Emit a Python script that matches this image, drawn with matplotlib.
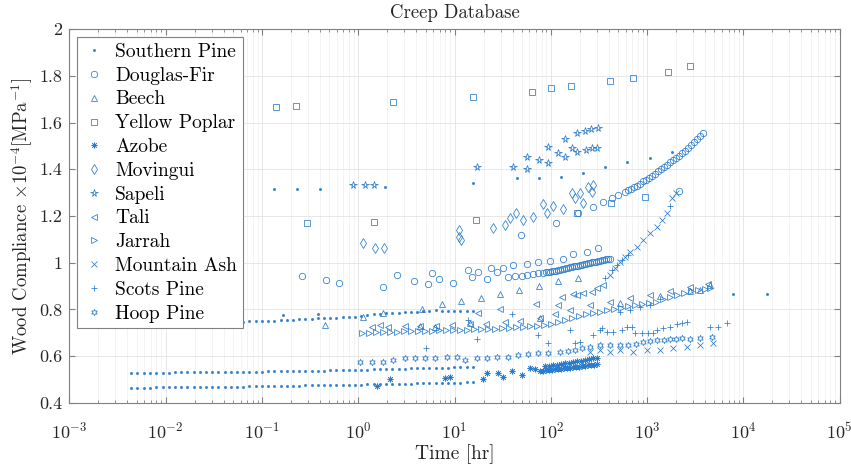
import matplotlib
matplotlib.use("Agg")
import matplotlib.pyplot as plt
from matplotlib.ticker import FixedLocator, FuncFormatter, LogLocator, NullFormatter

plt.rcParams['font.family'] = 'serif'
plt.rcParams['font.serif'] = ['cmr10']
plt.rcParams['mathtext.fontset'] = 'cm'
plt.rcParams['axes.formatter.use_mathtext'] = True

# ---- data (time in hr, compliance x1e-4 1/MPa) ----
# Southern Pine: sparse high points, two far points, three dense dotted tests
sp_top_t = [0.133, 0.231, 0.40, 1.89, 15.5, 44.5, 75.2, 127, 215, 364, 617, 1069, 1808]
sp_top_y = [1.316, 1.316, 1.316, 1.324, 1.341, 1.363, 1.363, 1.367, 1.384, 1.410, 1.431, 1.448, 1.474]
sp_far_t = [0.165, 0.38, 7766, 17500]
sp_far_y = [0.776, 0.780, 0.865, 0.865]
sp_dot_t = [0.0044, 0.0051, 0.0059, 0.0069, 0.0080, 0.0093, 0.0108, 0.0125, 0.0145, 0.0168,
            0.0195, 0.0226, 0.0262, 0.0304, 0.0353, 0.0410, 0.0475, 0.0551, 0.0640, 0.0742,
            0.0860, 0.0998, 0.116, 0.134, 0.156, 0.181, 0.210, 0.243, 0.282, 0.327,
            0.380, 0.440, 0.511, 0.593, 0.687, 0.797, 0.925, 1.07, 1.24, 1.44,
            1.68, 1.94, 2.25, 2.62, 3.03, 3.52, 4.08, 4.74, 5.49, 6.37,
            7.39, 8.58, 9.95, 11.5, 13.4, 15.5]
sp_mid_y = [0.745] * 18 + [0.747, 0.748, 0.749, 0.750, 0.751, 0.752,
            0.753, 0.754, 0.755, 0.757, 0.758, 0.760,
            0.761, 0.762, 0.764, 0.765, 0.766, 0.767, 0.768,
            0.772, 0.776, 0.780, 0.782, 0.784, 0.785, 0.786,
            0.787, 0.788, 0.790, 0.792, 0.795, 0.797,
            0.795, 0.794, 0.793, 0.793, 0.794, 0.795]
sp_low1_y = [0.528, 0.528, 0.528, 0.529, 0.529, 0.529, 0.529, 0.530, 0.530, 0.530,
             0.530, 0.530, 0.531, 0.531, 0.531, 0.531, 0.531, 0.532, 0.532, 0.532,
             0.533, 0.533, 0.534, 0.534, 0.535, 0.535, 0.536, 0.536, 0.537, 0.537,
             0.538, 0.538, 0.539, 0.539, 0.540, 0.540, 0.541, 0.542, 0.542, 0.543,
             0.543, 0.544, 0.545, 0.545, 0.546, 0.547, 0.547, 0.548, 0.548, 0.549,
             0.549, 0.550, 0.551, 0.551, 0.552, 0.553]
sp_low2_y = [0.465, 0.465, 0.465, 0.465, 0.466, 0.466, 0.466, 0.466, 0.467, 0.467,
             0.467, 0.467, 0.468, 0.468, 0.468, 0.468, 0.469, 0.469, 0.469, 0.470,
             0.470, 0.470, 0.471, 0.471, 0.472, 0.472, 0.473, 0.473, 0.474, 0.474,
             0.475, 0.475, 0.476, 0.476, 0.477, 0.477, 0.478, 0.478, 0.479, 0.479,
             0.480, 0.480, 0.481, 0.481, 0.482, 0.482, 0.483, 0.483, 0.484, 0.484,
             0.485, 0.485, 0.486, 0.486, 0.487, 0.488]

# Douglas-Fir: sparse test, dense short test, long test
df1_t = [0.260, 0.462, 0.631, 1.80, 2.52, 3.79, 5.29, 5.82, 6.89, 9.62, 13.8, 15.2, 17.5,
         21.7, 23.9, 27.5, 31.8, 40.4, 56.5, 73.5, 97.9, 134, 170, 237, 308]
df1_y = [0.943, 0.925, 0.913, 0.895, 0.947, 0.921, 0.908, 0.955, 0.930, 0.913, 0.968, 0.938, 0.960,
         0.930, 0.977, 0.960, 0.977, 0.990, 0.994, 1.003, 1.007, 1.015, 1.037, 1.045, 1.063]
df2_t = [35.8, 42.4, 50.1, 56.5, 65.2, 73.5, 82.7, 88.8, 93.3, 97.9, 102.8, 108, 113, 119, 124,
         130, 137, 144, 151, 158, 166, 174, 182, 191, 201, 210, 221, 232, 243, 255,
         267, 280, 294, 308, 323, 339, 356, 373, 391, 411]
df2_y = [0.938, 0.943, 0.943, 0.947, 0.951, 0.955, 0.955, 0.960, 0.960, 0.960, 0.964, 0.964, 0.964,
         0.968, 0.968, 0.973, 0.973, 0.977, 0.977, 0.981, 0.981, 0.986, 0.986, 0.986, 0.990, 0.990,
         0.994, 0.994, 0.998, 0.998, 1.003, 1.003, 1.003, 1.007, 1.007, 1.011, 1.011, 1.015, 1.015, 1.015]
df3_t = [48.9, 113, 191, 274, 347, 431, 497, 588, 632, 680, 729, 784, 841, 904, 970, 1043, 1118,
         1204, 1294, 1390, 1494, 1604, 1724, 1852, 1991, 2138, 2296, 2467, 2651, 2847, 3059,
         3286, 3532, 3795, 2138]
df3_y = [1.118, 1.170, 1.213, 1.238, 1.260, 1.277, 1.290, 1.303, 1.311, 1.316, 1.324, 1.328, 1.337,
         1.350, 1.354, 1.363, 1.371, 1.380, 1.393, 1.401, 1.410, 1.418, 1.431, 1.440, 1.448, 1.457,
         1.470, 1.478, 1.491, 1.504, 1.517, 1.530, 1.543, 1.556, 1.307]

# Beech
beech_t = [0.451, 1.12, 1.80, 4.59, 7.39, 11.7, 18.8, 29.6, 46.6, 75.2, 119, 191,
           4.37, 6.26, 14.5, 77.0, 522, 1357, 2780, 3532, 4483]
beech_y = [0.733, 0.767, 0.784, 0.801, 0.823, 0.835, 0.848, 0.865, 0.883, 0.900, 0.921, 0.934,
           0.729, 0.724, 0.741, 0.763, 0.827, 0.857, 0.878, 0.883, 0.904]

# Yellow Poplar
yp_t = [0.140, 0.225, 2.29, 15.5, 63.6, 100, 162, 411, 712, 1643, 2780,
        0.293, 1.46, 16.7, 187, 421, 948]
yp_y = [1.667, 1.671, 1.688, 1.710, 1.731, 1.748, 1.757, 1.778, 1.791, 1.817, 1.843,
        1.170, 1.174, 1.183, 1.213, 1.256, 1.281]

# Azobe
az_t = [1.56, 2.13, 7.94, 8.96, 19.7, 21.7, 28.2, 31.8, 39.4, 50.1, 60.6, 68.4,
        77.0, 82.7, 88.8, 95.5, 103, 110, 119, 127, 137, 147, 158, 170, 182, 196, 210, 226,
        243, 261, 280, 301,
        86.6, 95.5, 105, 116, 127, 140, 154, 170, 187, 206, 226, 248, 274, 301]
az_y = [0.471, 0.501, 0.506, 0.510, 0.501, 0.527, 0.527, 0.510, 0.536, 0.518, 0.548, 0.544,
        0.536, 0.536, 0.540, 0.540, 0.540, 0.544, 0.544, 0.544, 0.548, 0.548, 0.548, 0.553,
        0.553, 0.553, 0.557, 0.557, 0.561, 0.561, 0.561, 0.566,
        0.557, 0.557, 0.561, 0.561, 0.566, 0.570, 0.570, 0.574, 0.578, 0.578, 0.583, 0.587,
        0.591, 0.591]

# Movingui
mov_t = [1.12, 1.49, 1.85, 11.1, 11.1, 11.7, 25.0, 33.4, 37.6, 43.4, 51.3, 65.2, 82.7, 91.0,
         105, 134, 166, 178, 201, 215, 243, 274, 267]
mov_y = [1.084, 1.063, 1.063, 1.140, 1.110, 1.097, 1.148, 1.161, 1.191, 1.213, 1.183, 1.196,
         1.251, 1.213, 1.243, 1.230, 1.299, 1.277, 1.299, 1.256, 1.324, 1.333, 1.303]

# Sapeli
sap_t = [0.881, 1.17, 1.46, 17.1, 40.4, 56.5, 56.5, 75.2, 93.3, 93.3, 119, 140, 140, 166,
         187, 187, 226, 232, 261, 267, 308, 301]
sap_y = [1.333, 1.333, 1.333, 1.410, 1.410, 1.401, 1.453, 1.440, 1.427, 1.495, 1.470, 1.530,
         1.453, 1.491, 1.556, 1.474, 1.564, 1.483, 1.573, 1.491, 1.577, 1.491]

# Tali
tali_t = [1.68, 17.5, 29.6, 70.0, 119, 130, 170, 187, 215, 267, 301, 347,
          1.39, 2.03, 3.05, 4.37, 6.41, 9.40, 14.5, 21.2, 33.4, 47.8, 77.0, 110, 158, 255,
          411, 663, 1069, 1724, 2780, 4272]
tali_y = [0.733, 0.784, 0.801, 0.823, 0.818, 0.853, 0.865, 0.861, 0.870, 0.874, 0.891, 0.904,
          0.724, 0.724, 0.729, 0.729, 0.729, 0.733, 0.737, 0.737, 0.746, 0.750, 0.763, 0.780,
          0.797, 0.818, 0.831, 0.848, 0.861, 0.878, 0.895, 0.908]

# Jarrah
jar_t = [1.09, 1.29, 1.53, 1.80, 2.13, 2.52, 2.98, 3.53, 4.17, 4.93, 5.82, 6.89, 8.14, 9.62,
         11.4, 13.4, 15.9, 18.8, 22.2, 26.3, 31.0, 36.7, 43.4, 51.3, 60.6, 71.7, 84.8, 100,
         119, 140, 166, 196, 232, 274, 323, 383, 452, 535, 632, 747, 882, 1043, 1233, 1458,
         1724, 2038, 2410, 2847, 3365, 3979, 4483]
jar_y = [0.698, 0.698, 0.703, 0.703, 0.703, 0.703, 0.707, 0.707, 0.707, 0.707, 0.707, 0.711,
         0.711, 0.711, 0.711, 0.711, 0.716, 0.716, 0.716, 0.716, 0.720, 0.720, 0.724, 0.724,
         0.729, 0.729, 0.733, 0.737, 0.746, 0.754, 0.763, 0.771, 0.780, 0.784, 0.788, 0.797,
         0.801, 0.806, 0.814, 0.818, 0.823, 0.827, 0.831, 0.844, 0.853, 0.861, 0.870, 0.878,
         0.883, 0.887, 0.891]

# Mountain Ash
ma_t = [411, 463, 522, 588, 663, 784, 904, 1069, 1264, 1424, 1604, 1808, 1991,
        255, 323, 411, 522, 712, 995, 1357, 1852, 2588, 3532, 4815]
ma_y = [0.947, 0.977, 1.003, 1.024, 1.045, 1.067, 1.097, 1.127, 1.153, 1.183, 1.213, 1.277, 1.299,
        0.617, 0.625, 0.617, 0.625, 0.617, 0.625, 0.625, 0.634, 0.638, 0.647, 0.656]

# Scots Pine
scots_t = [5.05, 13.8, 17.1, 39.4, 73.5, 93.3, 158, 178, 201, 274, 323, 339, 382, 441, 548,
           617, 695, 747, 882, 1019, 1148, 1264, 1458, 1724, 2038, 2296, 2588, 4483, 5430, 6725,
           364, 431, 486, 548, 632, 1724, 522, 663, 841, 1069]
scots_y = [0.634, 0.754, 0.673, 0.780, 0.690, 0.656, 0.711, 0.656, 0.660, 0.690, 0.711, 0.720,
           0.703, 0.703, 0.711, 0.724, 0.724, 0.698, 0.698, 0.698, 0.698, 0.711, 0.720, 0.724,
           0.737, 0.741, 0.746, 0.724, 0.724, 0.741,
           0.934, 0.968, 0.990, 1.011, 1.033, 1.243, 0.788, 0.797, 0.810, 0.818]

# Hoop Pine
hoop_t = [1.04, 1.39, 1.80, 2.29, 3.05, 3.89, 4.93, 6.26, 8.33, 10.6, 12.8, 17.1, 21.7, 27.5,
          35.8, 45.5, 57.8, 73.5, 93.3, 124, 151, 178, 210, 255, 323, 411, 522, 632, 765, 904,
          1069, 1264, 1494, 1724, 1991, 2296, 2780, 3532, 4699]
hoop_y = [0.574, 0.574, 0.574, 0.583, 0.591, 0.591, 0.591, 0.591, 0.596, 0.596, 0.583, 0.591,
          0.591, 0.596, 0.596, 0.604, 0.608, 0.613, 0.613, 0.617, 0.621, 0.625, 0.634, 0.638,
          0.647, 0.647, 0.647, 0.647, 0.651, 0.660, 0.664, 0.668, 0.668, 0.673, 0.673, 0.677,
          0.673, 0.677, 0.681]

blue = '#2a7ccc'
txt = '#262626'

sp_t = sp_top_t + sp_far_t + sp_dot_t * 3
sp_y = sp_top_y + sp_far_y + sp_mid_y + sp_low1_y + sp_low2_y
df_t = df1_t + df2_t + df3_t
df_y = df1_y + df2_y + df3_y

series = [
    ('Southern Pine', sp_t, sp_y, '.', 2.4),
    ('Douglas-Fir', df_t, df_y, 'o', 4.6),
    ('Beech', beech_t, beech_y, '^', 4.6),
    ('Yellow Poplar', yp_t, yp_y, 's', 3.8),
    ('Azobe', az_t, az_y, (8, 2, 0), 4.2),
    ('Movingui', mov_t, mov_y, 'd', 5.0),
    ('Sapeli', sap_t, sap_y, '*', 5.4),
    ('Tali', tali_t, tali_y, '<', 4.6),
    ('Jarrah', jar_t, jar_y, '>', 4.6),
    ('Mountain Ash', ma_t, ma_y, 'x', 3.8),
    ('Scots Pine', scots_t, scots_y, '+', 4.6),
    ('Hoop Pine', hoop_t, hoop_y, (6, 1, 0), 4.6),
]

fig = plt.figure(figsize=(8.51, 4.68), dpi=100)
ax = fig.add_axes([0.0815, 0.1395, 0.9053, 0.7979])

for name, t, y, mk, ms in series:
    if mk == '.':
        ax.plot(t, y, linestyle='none', marker='.', ms=ms, color=blue, alpha=0.85, label=name)
    else:
        ax.plot(t, y, linestyle='none', marker=mk, ms=ms, mfc='none', mec=blue,
                mew=0.55, label=name)

ax.set_xscale('log')
ax.set_xlim(1e-3, 1e5)
ax.set_ylim(0.4, 2.0)
ax.xaxis.set_major_locator(LogLocator(base=10, numticks=20))
ax.xaxis.set_minor_locator(LogLocator(base=10, subs=range(2, 10), numticks=20))
ax.xaxis.set_minor_formatter(NullFormatter())
ax.yaxis.set_major_locator(FixedLocator([0.4, 0.6, 0.8, 1.0, 1.2, 1.4, 1.6, 1.8, 2.0]))
ax.yaxis.set_major_formatter(FuncFormatter(lambda v, p: '%g' % v))

ax.set_axisbelow(True)
ax.grid(True, which='major', color='#e3e3e3', lw=0.6)
ax.grid(True, which='minor', axis='x', color='#efefef', lw=0.5)
for s in ax.spines.values():
    s.set_color('#808080')
    s.set_linewidth(0.8)
ax.tick_params(which='both', direction='in', top=True, right=True, colors='#808080',
               labelcolor=txt, labelsize=13)
ax.tick_params(which='major', length=4)
ax.tick_params(which='minor', length=2)
ax.tick_params(axis='x', which='major', pad=13)
ax.tick_params(axis='y', which='major', pad=5)

ax.set_title('Creep Database', fontsize=13.5, color=txt, pad=8)
ax.set_xlabel('Time [hr]', fontsize=14, color=txt, labelpad=2)
ax.set_ylabel(r'Wood Compliance $\times10^{-4}$[MPa$^{-1}$]', fontsize=13.5, color=txt,
              labelpad=3)

leg = ax.legend(loc='upper left', bbox_to_anchor=(0.0099, 0.979), borderaxespad=0,
                fontsize=14, frameon=True, fancybox=False, framealpha=1,
                edgecolor='#808080', handlelength=1.2, handletextpad=0.45,
                labelspacing=0.3, borderpad=0.3, markerscale=1.0)
leg.get_frame().set_linewidth(0.8)

fig.savefig('out.png', dpi=100)
